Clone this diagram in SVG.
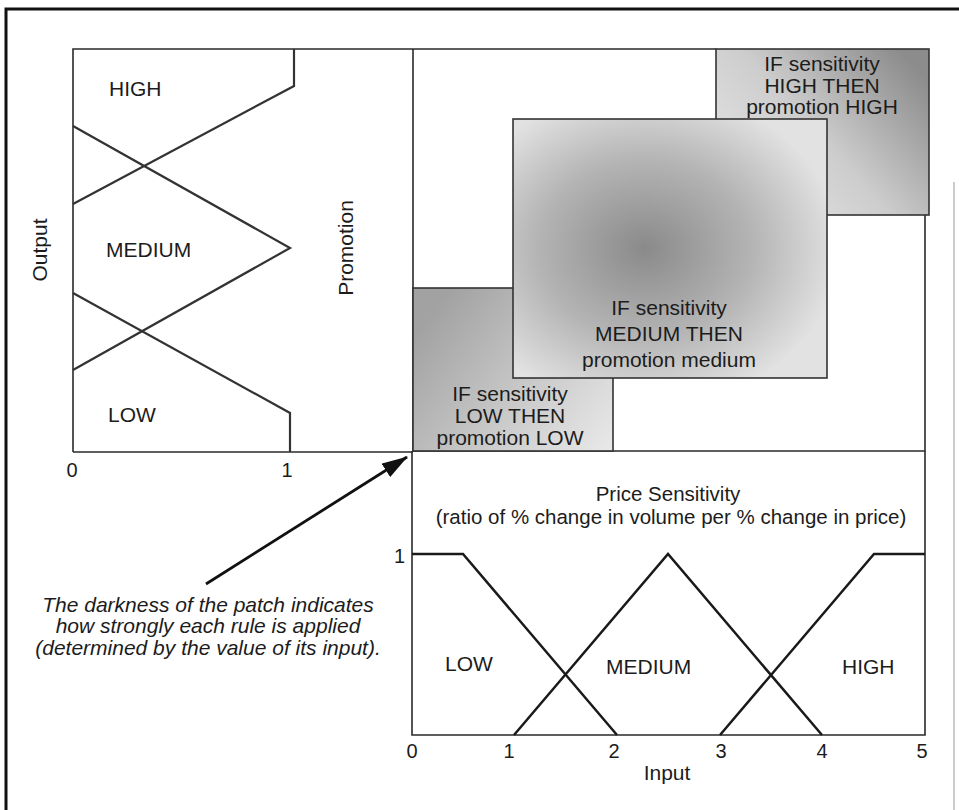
<svg xmlns="http://www.w3.org/2000/svg" width="959" height="810" viewBox="0 0 959 810">
  <style>
    text { font-family: "Liberation Sans", Arial, Helvetica, sans-serif; fill: #1c1c1c; }
    .lbl { font-size: 21px; }
    .title { font-size: 20.5px; }
    .num { font-size: 20px; }
    .mid { text-anchor: middle; }
    .note { font-size: 21px; font-style: italic; text-anchor: middle; }
    .frame { fill: none; stroke: #111; stroke-width: 3; }
    .axis { fill: none; stroke: #2a2a2a; stroke-width: 1.6; }
    .mf { fill: none; stroke: #333; stroke-width: 2.2; stroke-linejoin: miter; }
    .mf2 { fill: none; stroke: #1a1a1a; stroke-width: 2.5; stroke-linejoin: miter; }
    .patch { stroke: #333; stroke-width: 1.6; }
  </style>
  <defs>
    <linearGradient id="gHigh" x1="0" y1="0.9" x2="1" y2="0.2">
      <stop offset="0" stop-color="#e8e8e8"/>
      <stop offset="0.5" stop-color="#cdcdcd"/>
      <stop offset="1" stop-color="#8c8c8c"/>
    </linearGradient>
    <radialGradient id="gMed" cx="0.42" cy="0.5" r="0.62" fx="0.42" fy="0.5">
      <stop offset="0" stop-color="#8a8a8a"/>
      <stop offset="0.55" stop-color="#b4b4b4"/>
      <stop offset="1" stop-color="#e2e2e2"/>
    </radialGradient>
    <linearGradient id="gLow" x1="0" y1="0.3" x2="1" y2="0.95">
      <stop offset="0" stop-color="#a2a2a2"/>
      <stop offset="0.55" stop-color="#cacaca"/>
      <stop offset="1" stop-color="#e8e8e8"/>
    </linearGradient>
    <marker id="arrowHead" viewBox="0 0 26 16" refX="25" refY="8" markerWidth="26" markerHeight="16" markerUnits="userSpaceOnUse" orient="auto">
      <path d="M0,0 L26,8 L0,16 Z" fill="#111"/>
    </marker>
  </defs>

  <!-- outer page frame -->
  <path class="frame" d="M6,810 L6,9 L959,9"/>
  <line x1="954" y1="182" x2="954" y2="810" stroke="#aaa" stroke-width="1.2"/>

  <!-- output (promotion) membership chart -->
  <g id="output-chart">
    <path class="axis" d="M73,452 L73,49 L716,49"/>
    <path class="axis" d="M73,452 L413,452"/>
    <path class="mf" d="M294,49 L294,86 L73,204"/>
    <path class="mf" d="M73,126 L290,248 L73,370"/>
    <path class="mf" d="M73,293 L290,413 L290,452"/>
    <text class="lbl" x="109" y="96">HIGH</text>
    <text class="lbl" x="106" y="257">MEDIUM</text>
    <text class="lbl" x="108" y="422">LOW</text>
    <text class="num mid" x="72" y="477">0</text>
    <text class="num mid" x="287" y="477">1</text>
    <text class="lbl mid" transform="translate(47,250) rotate(-90)">Output</text>
    <text class="lbl mid" transform="translate(353,248) rotate(-90)">Promotion</text>
  </g>

  <!-- rule surface -->
  <g id="rule-area">
    <path class="axis" d="M413,49 L413,451 L925,451 L925,215"/>
  </g>

  <g id="rule-high">
    <rect class="patch" x="716" y="49" width="213" height="166" fill="url(#gHigh)"/>
    <text class="lbl mid" x="822" y="71">IF sensitivity</text>
    <text class="lbl mid" x="822" y="93">HIGH THEN</text>
    <text class="lbl mid" x="822" y="114">promotion HIGH</text>
  </g>

  <g id="rule-low">
    <rect class="patch" x="413" y="288" width="200" height="163" fill="url(#gLow)"/>
    <text class="lbl mid" x="510" y="401">IF sensitivity</text>
    <text class="lbl mid" x="510" y="423">LOW THEN</text>
    <text class="lbl mid" x="510" y="445">promotion LOW</text>
  </g>

  <g id="rule-medium">
    <rect class="patch" x="513" y="119" width="314" height="259" fill="url(#gMed)" stroke-width="2"/>
    <text class="lbl mid" x="669" y="315">IF sensitivity</text>
    <text class="lbl mid" x="669" y="341">MEDIUM THEN</text>
    <text class="lbl mid" x="669" y="367">promotion medium</text>
  </g>

  <!-- input (price sensitivity) membership chart -->
  <g id="input-chart">
    <path class="axis" d="M412,451 L412,735 L925,735 L925,451"/>
    <text class="title mid" x="668" y="501">Price Sensitivity</text>
    <text class="title mid" x="671" y="524">(ratio of % change in volume per % change in price)</text>
    <path class="mf2" d="M412,554 L463,554 L617,735"/>
    <path class="mf2" d="M514,735 L668,554 L822,735"/>
    <path class="mf2" d="M720,735 L874,554 L925,554"/>
    <text class="lbl" x="445" y="671">LOW</text>
    <text class="lbl" x="606" y="674">MEDIUM</text>
    <text class="lbl" x="842" y="674">HIGH</text>
    <text class="num" x="405" y="563" text-anchor="end">1</text>
    <text class="num mid" x="412" y="758">0</text>
    <text class="num mid" x="509" y="758">1</text>
    <text class="num mid" x="614" y="758">2</text>
    <text class="num mid" x="721" y="758">3</text>
    <text class="num mid" x="822" y="758">4</text>
    <text class="num mid" x="922" y="758">5</text>
    <text class="lbl mid" x="667" y="780">Input</text>
  </g>

  <!-- annotation -->
  <g id="note">
    <text class="note" x="208" y="612">The darkness of the patch indicates</text>
    <text class="note" x="208" y="633">how strongly each rule is applied</text>
    <text class="note" x="208" y="655">(determined by the value of its input).</text>
  </g>

  <g id="connectors">
    <line x1="206" y1="584" x2="407" y2="457" stroke="#111" stroke-width="2.8" marker-end="url(#arrowHead)"/>
  </g>
</svg>
